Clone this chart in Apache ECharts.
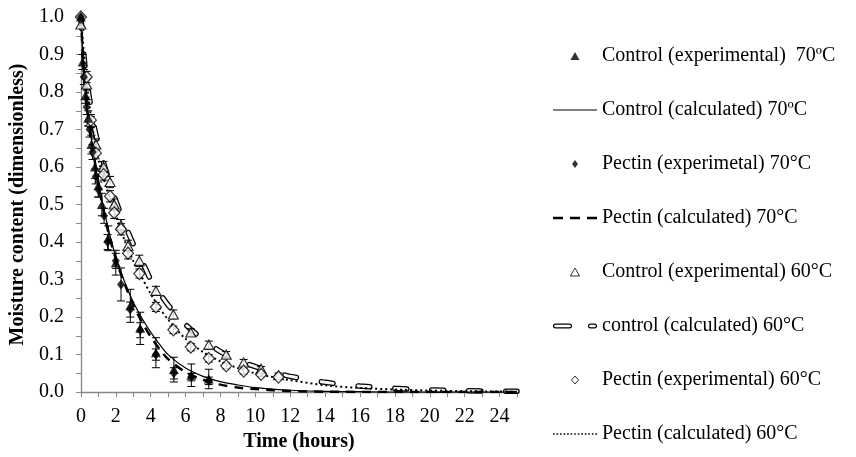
<!DOCTYPE html>
<html><head><meta charset="utf-8">
<script src="https://cdn.jsdelivr.net/npm/echarts@6/dist/echarts.min.js"></script>
<style>html,body{margin:0;padding:0;background:#fff}#c{width:856px;height:457px}</style>
</head><body><div id="c"></div>
<script>
// ---------- data ----------
const xTickLabels = [0, 2, 4, 6, 8, 10, 12, 14, 16, 18, 20, 22, 24];
const yTickLabels = ['0.0','0.1','0.2','0.3','0.4','0.5','0.6','0.7','0.8','0.9','1.0'];

const names = [
  'Control (experimental)  70ºC',
  'Control (calculated) 70ºC',
  'Pectin (experimetal) 70°C',
  'Pectin (calculated) 70°C',
  'Control (experimental) 60°C',
  'control (calculated) 60°C',
  'Pectin (experimental) 60°C',
  'Pectin (calculated) 60°C'
];

const ctrl70ExpT = [0, 0.1, 0.25, 0.42, 0.6, 0.8, 1, 1.2, 1.57, 2, 2.83, 3.4, 4.3, 5.33, 6.33, 7.33];
const ctrl70ExpV = [1.0, 0.88, 0.79, 0.73, 0.66, 0.60, 0.55, 0.50, 0.41, 0.345, 0.23, 0.17, 0.105, 0.06, 0.045, 0.035];
const ctrl70ExpE = [0, 0.02, 0.02, 0.02, 0.025, 0.03, 0.03, 0.03, 0.033, 0.033, 0.044, 0.043, 0.04, 0.033, 0.03, 0.026];

const pect70ExpT = [0, 0.17, 0.33, 0.5, 0.67, 0.85, 1, 1.33, 1.53, 2, 2.3, 2.83, 3.4, 4.3, 5.33, 6.33, 7.33];
const pect70ExpV = [1.0, 0.84, 0.76, 0.70, 0.64, 0.575, 0.54, 0.47, 0.40, 0.35, 0.287, 0.22, 0.165, 0.10, 0.05, 0.04, 0.03];
const pect70ExpE = [0, 0.02, 0.02, 0.02, 0.02, 0.02, 0.02, 0.02, 0.02, 0.02, 0.044, 0.02, 0.02, 0.015, 0.015, 0.01, 0.01];

const exp60T = [0, 0.33, 0.57, 0.86, 1.3, 1.67, 1.91, 2.3, 2.7, 3.35, 4.3, 5.3, 6.3, 7.33, 8.33, 9.33, 10.33, 11.33];
const ctrl60ExpV = [0.98, 0.82, 0.72, 0.66, 0.60, 0.56, 0.50, 0.445, 0.39, 0.35, 0.27, 0.207, 0.159, 0.126, 0.10, 0.079, 0.062, 0.045];
const ctrl60ExpE = [0, 0.015, 0.015, 0.015, 0.015, 0.015, 0.015, 0.015, 0.015, 0.015, 0.012, 0.012, 0.01, 0.01, 0.008, 0.008, 0.006, 0.006];
const pect60ExpV = [1.0, 0.84, 0.725, 0.637, 0.58, 0.522, 0.478, 0.434, 0.37, 0.316, 0.227, 0.166, 0.12, 0.09, 0.07, 0.056, 0.047, 0.04];
const pect60ExpE = [0, 0.015, 0.015, 0.015, 0.015, 0.015, 0.015, 0.015, 0.015, 0.012, 0.012, 0.01, 0.01, 0.01, 0.008, 0.008, 0.006, 0.006];

const calcT      = [0, 0.25, 0.5, 0.75, 1, 1.5, 2, 2.5, 3, 3.5, 4, 4.5, 5, 6, 7, 8, 9, 10, 11, 12, 14, 16, 18, 20, 22, 24, 25];
const ctrl70Calc = [1.0, 0.80, 0.71, 0.63, 0.56, 0.45, 0.36, 0.295, 0.24, 0.197, 0.16, 0.128, 0.10, 0.064, 0.042, 0.028, 0.019, 0.012, 0.008, 0.005, 0.002, 0.001, 0, 0, 0, 0, 0];
const pect70Calc = [1.0, 0.80, 0.71, 0.63, 0.555, 0.44, 0.355, 0.29, 0.232, 0.187, 0.148, 0.115, 0.088, 0.053, 0.033, 0.02, 0.012, 0.008, 0.005, 0.003, 0.001, 0.0005, 0, 0, 0, 0, 0];
const ctrl60Calc = [1.0, 0.86, 0.78, 0.71, 0.66, 0.58, 0.51, 0.45, 0.395, 0.35, 0.30, 0.265, 0.232, 0.18, 0.14, 0.108, 0.085, 0.068, 0.054, 0.042, 0.026, 0.016, 0.01, 0.006, 0.0035, 0.0025, 0.002];
const pect60Calc = [1.0, 0.86, 0.76, 0.68, 0.62, 0.54, 0.47, 0.405, 0.35, 0.305, 0.262, 0.225, 0.193, 0.142, 0.107, 0.082, 0.064, 0.05, 0.04, 0.032, 0.018, 0.011, 0.007, 0.004, 0.0025, 0.0015, 0.001];

// ---------- helpers ----------
const pair = (t, v) => t.map((x, i) => [x, v[i]]);
const bars = (t, v, e) => t.map((x, i) => [x, v[i] - e[i], v[i] + e[i]]).filter((d, i) => e[i] > 0);
const FONT = 'Liberation Serif, Times New Roman, serif';

function errSeries(data) {
  return {
    type: 'custom', data: data, encode: { x: 0, y: [1, 2] }, silent: true, z: 3,
    renderItem: (params, api) => {
      const x = api.value(0);
      const p1 = api.coord([x, api.value(1)]);
      const p2 = api.coord([x, api.value(2)]);
      const w = 4, st = { stroke: '#000', lineWidth: 1 };
      return { type: 'group', children: [
        { type: 'line', shape: { x1: p1[0], y1: p1[1], x2: p2[0], y2: p2[1] }, style: st },
        { type: 'line', shape: { x1: p1[0] - w, y1: p1[1], x2: p1[0] + w, y2: p1[1] }, style: st },
        { type: 'line', shape: { x1: p2[0] - w, y1: p2[1], x2: p2[0] + w, y2: p2[1] }, style: st }
      ]};
    }
  };
}

let dots = '';
for (let i = 0; i < 13; i++) dots += 'M' + (i * 3.55).toFixed(2) + ',0h1.6v1.6h-1.6z';
const capsule = (x0, len) => {
  const x1 = x0 + 2.5, x2 = x0 + len - 2.5;
  return 'M' + x1 + ',0H' + x2 + 'A2.5,2.5 0 0 1 ' + x2 + ',5H' + x1 + 'A2.5,2.5 0 0 1 ' + x1 + ',0Z' +
         'M' + x1 + ',1.2A1.3,1.3 0 0 0 ' + x1 + ',3.8H' + x2 + 'A1.3,1.3 0 0 0 ' + x2 + ',1.2Z';
};
const icons = {
  tri: 'path://M4,0L8,7H0Z',
  dia: 'path://M3,0L6,4L3,8L0,4Z',
  odia: 'path://M4,0L8,4.5L4,9L0,4.5Z',
  solid: 'path://M0,0h44v1.2h-44z',
  dash: 'path://M0,0h10v2.6h-10zM17,0h10v2.6h-10zM34,0h10v2.6h-10z',
  capsule: 'path://' + capsule(0, 19) + capsule(35, 9),
  dotted: 'path://' + dots
};

const chart = echarts.init(document.getElementById('c'), null, { renderer: 'canvas' });
const axisGrey = '#868686';

const option = {
  animation: false,
  backgroundColor: '#fff',
  grid: { left: 80, right: 339, top: 17, bottom: 64, containLabel: false },
  legend: {
    orient: 'vertical', left: 548, top: 41, itemWidth: 44, itemHeight: 8, itemGap: 34,
    selectedMode: false,
    textStyle: { fontFamily: FONT, fontSize: 20, color: '#000' },
    data: [
      { name: names[0], icon: icons.tri, itemStyle: { color: '#000', borderWidth: 0 } },
      { name: names[1], icon: icons.solid, itemStyle: { color: '#000', borderWidth: 0 } },
      { name: names[2], icon: icons.dia, itemStyle: { color: '#000', borderWidth: 0 } },
      { name: names[3], icon: icons.dash, itemStyle: { color: '#000', borderWidth: 0 } },
      { name: names[4], icon: icons.tri, itemStyle: { color: '#fff', borderColor: '#000', borderWidth: 1 } },
      { name: names[5], icon: icons.capsule, itemStyle: { color: '#000', borderWidth: 0 } },
      { name: names[6], icon: icons.odia, itemStyle: { color: '#fff', borderColor: '#000', borderWidth: 1 } },
      { name: names[7], icon: icons.dotted, itemStyle: { color: '#000', borderWidth: 0 } }
    ]
  },
  xAxis: {
    type: 'value', min: 0, max: 25, interval: 1,
    name: 'Time (hours)', nameLocation: 'middle', nameGap: 38,
    nameTextStyle: { fontFamily: FONT, fontSize: 20, fontWeight: 'bold', color: '#000' },
    axisLine: { show: true, lineStyle: { color: axisGrey, width: 1.3 } },
    axisTick: { show: true, length: 5, lineStyle: { color: axisGrey, width: 1 } },
    splitLine: { show: false },
    axisLabel: {
      fontFamily: FONT, fontSize: 20, color: '#000', margin: 15,
      formatter: v => (xTickLabels.indexOf(v) >= 0 ? String(v) : '')
    }
  },
  yAxis: {
    type: 'value', min: 0, max: 1, interval: 0.05,
    name: 'Moisture content (dimensionless)', nameLocation: 'middle', nameGap: 52,
    nameTextStyle: { fontFamily: FONT, fontSize: 20, fontWeight: 'bold', color: '#000' },
    axisLine: { show: true, lineStyle: { color: axisGrey, width: 1.3 } },
    axisTick: { show: true, length: 5, lineStyle: { color: axisGrey, width: 1 } },
    splitLine: { show: false },
    axisLabel: {
      fontFamily: FONT, fontSize: 20, color: '#000', margin: 17,
      formatter: v => { const k = Math.round(v * 100); return k % 10 === 0 ? yTickLabels[k / 10] : ''; }
    }
  },
  series: [
    { name: names[5], type: 'line', data: pair(calcT, ctrl60Calc), smooth: 0.3, symbol: 'none', z: 2,
      lineStyle: { color: '#000', width: 5.5, type: [12, 25], cap: 'round' } },
    { name: names[5], type: 'line', data: pair(calcT, ctrl60Calc), smooth: 0.3, symbol: 'none', z: 2,
      lineStyle: { color: '#f4f4f4', width: 3, type: [12, 25], cap: 'round' } },
    { name: names[7], type: 'line', data: pair(calcT, pect60Calc), smooth: 0.3, symbol: 'none', z: 2,
      lineStyle: { color: '#000', width: 2, type: [2, 3] } },
    { name: names[1], type: 'line', data: pair(calcT, ctrl70Calc), smooth: 0.3, symbol: 'none', z: 2,
      lineStyle: { color: '#000', width: 1.2, type: 'solid' } },
    { name: names[3], type: 'line', data: pair(calcT, pect70Calc), smooth: 0.3, symbol: 'none', z: 2,
      lineStyle: { color: '#000', width: 2.5, type: [9, 7] } },
    errSeries(bars(exp60T, ctrl60ExpV, ctrl60ExpE)),
    errSeries(bars(exp60T, pect60ExpV, pect60ExpE)),
    errSeries(bars(pect70ExpT, pect70ExpV, pect70ExpE)),
    errSeries(bars(ctrl70ExpT, ctrl70ExpV, ctrl70ExpE)),
    { name: names[4], type: 'scatter', data: pair(exp60T, ctrl60ExpV), symbol: 'triangle', symbolSize: [10, 9], z: 4,
      itemStyle: { color: '#fff', borderColor: '#000', borderWidth: 1.2 } },
    { name: names[6], type: 'scatter', data: pair(exp60T, pect60ExpV), symbol: 'diamond', symbolSize: [11, 12], z: 4,
      itemStyle: { color: '#fff', borderColor: '#000', borderWidth: 1.2 } },
    { name: names[2], type: 'scatter', data: pair(pect70ExpT, pect70ExpV), symbol: 'diamond', symbolSize: [8, 10], z: 5,
      itemStyle: { color: '#000' } },
    { name: names[0], type: 'scatter', data: pair(ctrl70ExpT, ctrl70ExpV), symbol: 'triangle', symbolSize: [10, 9], z: 5,
      itemStyle: { color: '#000' } }
  ]
};
chart.setOption(option);
</script>
</body></html>
